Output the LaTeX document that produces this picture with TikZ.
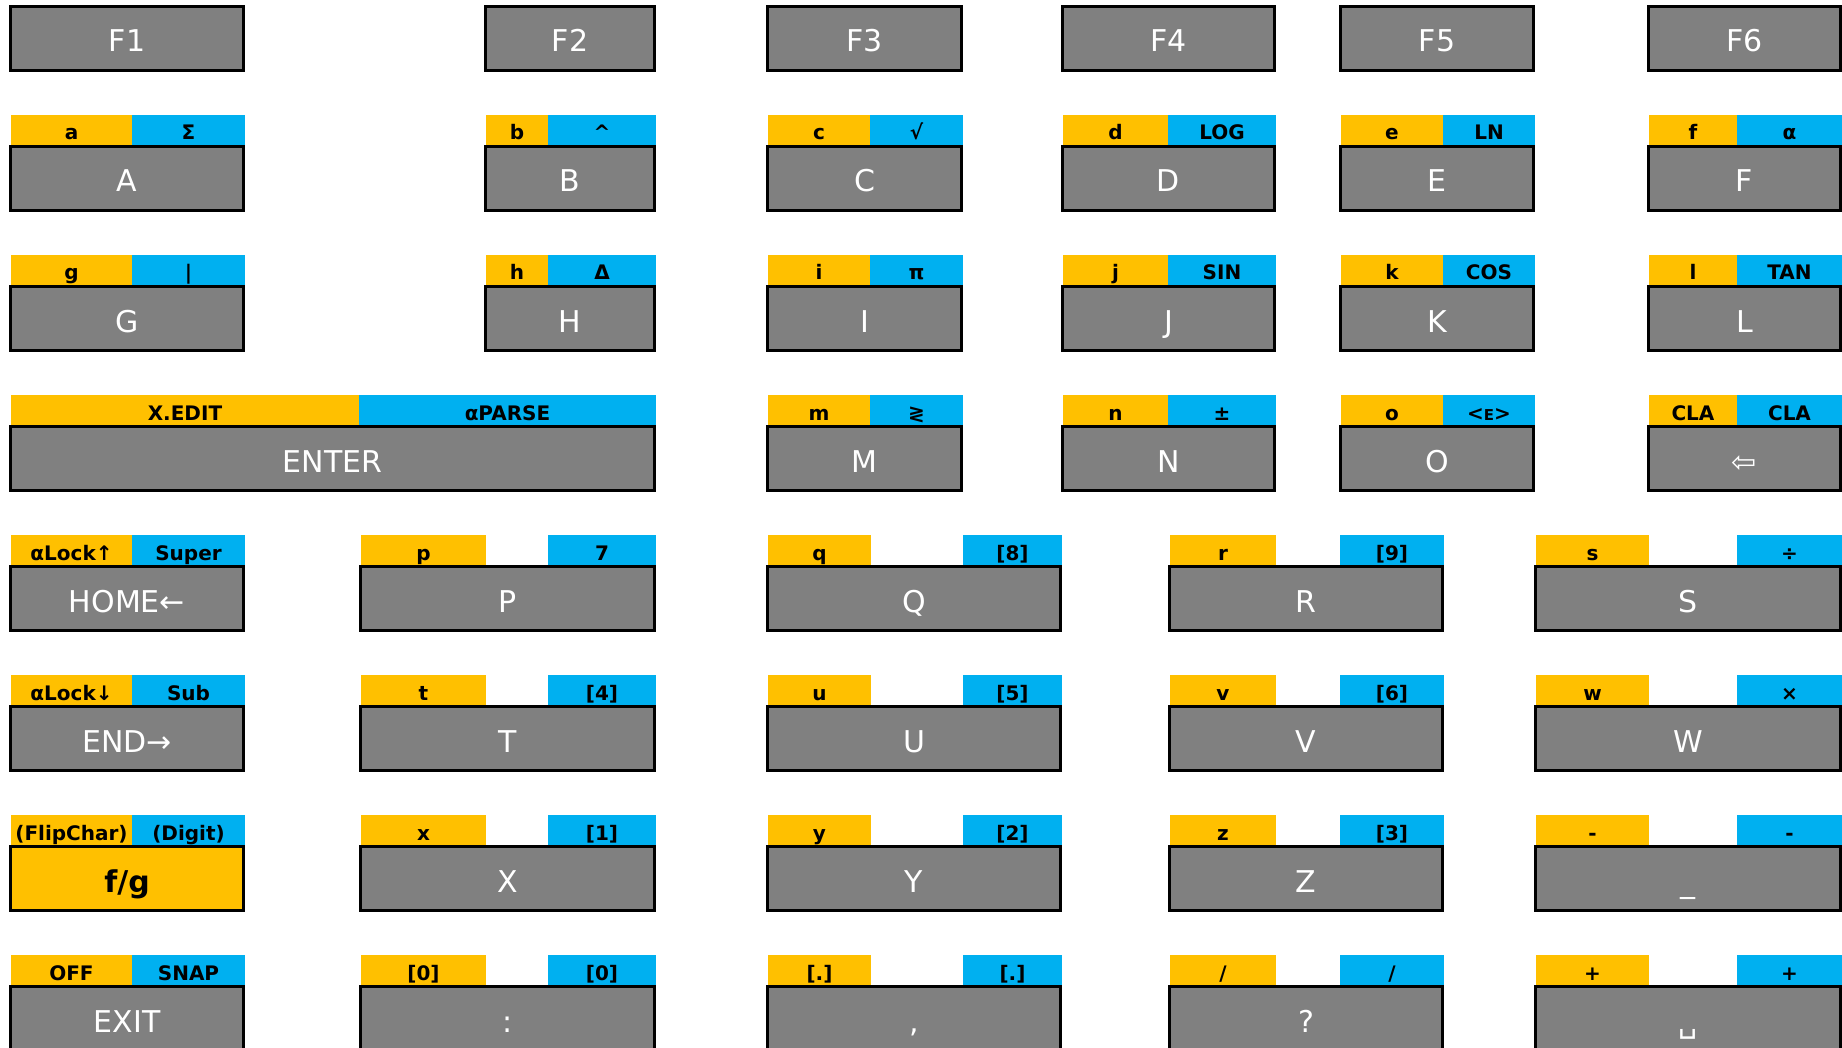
\documentclass[tikz,border=0pt]{standalone}
\usepackage{fontspec}
\setmainfont{DejaVu Sans}
\definecolor{kgray}{HTML}{808080}
\definecolor{kyel}{HTML}{FFC000}
\definecolor{kblue}{HTML}{00B0F0}
\tikzset{
  keyface/.style={fill=kgray, draw=black, line width=1.5pt},
  fgface/.style={fill=kyel, draw=black, line width=1.5pt},
  keytext/.style={anchor=base, inner sep=0pt, text=white, font=\fontsize{15}{18}\selectfont},
  fgtext/.style={keytext, text=black, font=\fontsize{15}{18}\selectfont\bfseries},
  labtext/.style={anchor=base, inner sep=0pt, text=black, font=\fontsize{10}{12}\selectfont\bfseries},
  ybar/.style={fill=kyel},
  bbar/.style={fill=kblue}
}
% key body: name, x1, x2, row, text, face style, text style
\newcommand\keyb[7]{%
  \path[#6] ({#2+1.5},{140*#4+6.5}) rectangle ({#3-1.5},{140*#4+70.5});
  \node[#7] (#1) at ({(#2+#3)/2},{140*#4+52}) {#5};}
% label bar: name, x1, x2, row, bar style, text
\newcommand\labb[6]{%
  \fill[#5] ({#2},{140*#4-25}) rectangle ({#3},{140*#4+5});
  \node[labtext] (#1) at ({(#2+#3)/2},{140*#4}) {#6};}
% split key: name, x1, split, x2, row, text, yellow label, blue label
\newcommand\splitkey[8]{%
  \keyb{#1}{#2}{#4}{#5}{#6}{keyface}{keytext}%
  \labb{#1y}{#2+2}{#3}{#5}{ybar}{#7}%
  \labb{#1b}{#3}{#4}{#5}{bbar}{#8}}
% wide key: name, x1, x2, row, text, yellow right, blue left, yellow label, blue label
\newcommand\widekey[9]{%
  \keyb{#1}{#2}{#3}{#4}{#5}{keyface}{keytext}%
  \labb{#1y}{#2+2}{#6}{#4}{ybar}{#8}%
  \labb{#1b}{#7}{#3}{#4}{bbar}{#9}}
\begin{document}
\begin{tikzpicture}[x=0.5pt, y=-0.5pt]
\useasboundingbox (0,0) rectangle (1842,1048);
\clip (0,0) rectangle (1842,1048);
\fill[white] (0,0) rectangle (1842,1048);
% row 0
\keyb{f1}{9}{245}{0}{F1}{keyface}{keytext}
\keyb{f2}{484}{656}{0}{F2}{keyface}{keytext}
\keyb{f3}{766}{963}{0}{F3}{keyface}{keytext}
\keyb{f4}{1061}{1276}{0}{F4}{keyface}{keytext}
\keyb{f5}{1339}{1535}{0}{F5}{keyface}{keytext}
\keyb{f6}{1647}{1842}{0}{F6}{keyface}{keytext}
% row 1
\splitkey{ka}{9}{132}{245}{1}{A}{a}{Σ}
\splitkey{kb}{484}{548}{656}{1}{B}{b}{\textasciicircum}
\splitkey{kc}{766}{870}{963}{1}{C}{c}{√}
\splitkey{kd}{1061}{1168}{1276}{1}{D}{d}{LOG}
\splitkey{ke}{1339}{1443}{1535}{1}{E}{e}{LN}
\splitkey{kf}{1647}{1737}{1842}{1}{F}{f}{α}
% row 2
\splitkey{kg}{9}{132}{245}{2}{G}{g}{|}
\splitkey{kh}{484}{548}{656}{2}{H}{h}{Δ}
\splitkey{ki}{766}{870}{963}{2}{I}{i}{π}
\splitkey{kj}{1061}{1168}{1276}{2}{J}{j}{SIN}
\splitkey{kk}{1339}{1443}{1535}{2}{K}{k}{COS}
\splitkey{kl}{1647}{1737}{1842}{2}{L}{l}{TAN}
% row 3
\splitkey{kenter}{9}{359}{656}{3}{ENTER}{X.EDIT}{αPARSE}
\splitkey{km}{766}{870}{963}{3}{M}{m}{≷}
\splitkey{kn}{1061}{1168}{1276}{3}{N}{n}{±}
\splitkey{ko}{1339}{1443}{1535}{3}{O}{o}{<{\fontsize{7.5}{8}\selectfont E}>}
\splitkey{kbsp}{1647}{1737}{1842}{3}{⇦}{CLA}{CLA}
% row 4
\splitkey{khome}{9}{132}{245}{4}{HOME←}{αLock↑}{Super}
\widekey{kp}{359}{656}{4}{P}{486}{548}{p}{7}
\widekey{kq}{766}{1062}{4}{Q}{871}{963}{q}{[8]}
\widekey{kr}{1168}{1444}{4}{R}{1276}{1340}{r}{[9]}
\widekey{ks}{1534}{1842}{4}{S}{1649}{1737}{s}{÷}
% row 5
\splitkey{kend}{9}{132}{245}{5}{END→}{αLock↓}{Sub}
\widekey{kt}{359}{656}{5}{T}{486}{548}{t}{[4]}
\widekey{ku}{766}{1062}{5}{U}{871}{963}{u}{[5]}
\widekey{kv}{1168}{1444}{5}{V}{1276}{1340}{v}{[6]}
\widekey{kw}{1534}{1842}{5}{W}{1649}{1737}{w}{×}
% row 6
\keyb{kfg}{9}{245}{6}{f/g}{fgface}{fgtext}
\labb{kfgy}{11}{132}{6}{ybar}{(FlipChar)}
\labb{kfgb}{132}{245}{6}{bbar}{(Digit)}
\widekey{kx}{359}{656}{6}{X}{486}{548}{x}{[1]}
\widekey{ky}{766}{1062}{6}{Y}{871}{963}{y}{[2]}
\widekey{kz}{1168}{1444}{6}{Z}{1276}{1340}{z}{[3]}
\widekey{kus}{1534}{1842}{6}{\_}{1649}{1737}{-}{-}
% row 7
\splitkey{kexit}{9}{132}{245}{7}{EXIT}{OFF}{SNAP}
\widekey{kcolon}{359}{656}{7}{:}{486}{548}{[0]}{[0]}
\widekey{kcomma}{766}{1062}{7}{,}{871}{963}{[.]}{[.]}
\widekey{kquest}{1168}{1444}{7}{?}{1276}{1340}{/}{/}
\widekey{kspace}{1534}{1842}{7}{␣}{1649}{1737}{+}{+}
\end{tikzpicture}
\end{document}
